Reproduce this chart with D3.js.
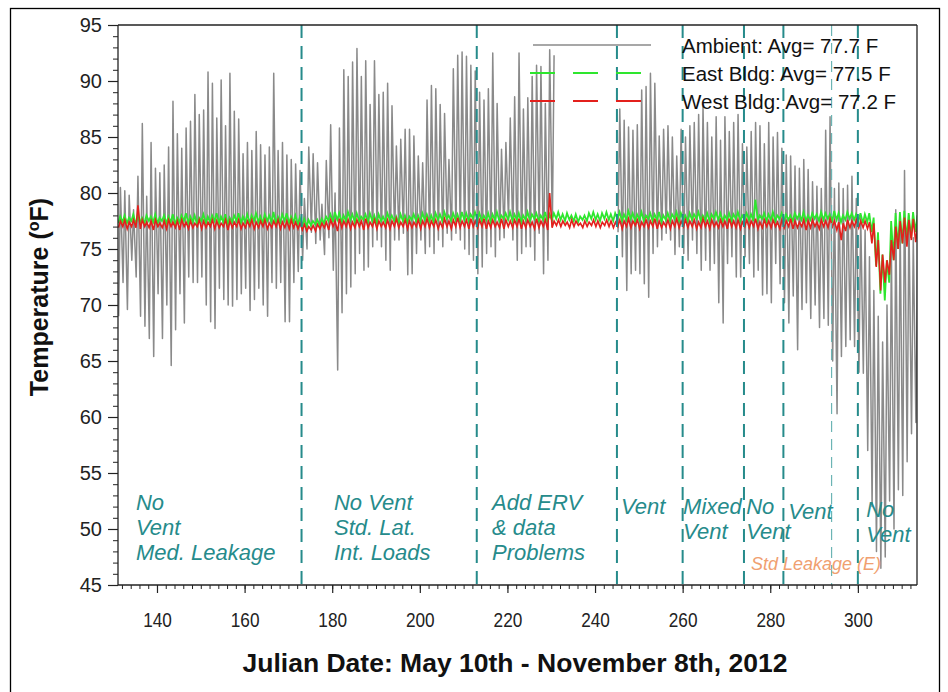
<!DOCTYPE html>
<html><head><meta charset="utf-8">
<script src="https://cdn.jsdelivr.net/npm/d3@7/dist/d3.min.js"></script>
<style>body{margin:0;background:#fff}svg{display:block}</style>
</head><body><svg id="c" width="948" height="692"></svg>
<script>
// ---------------- DATA ----------------
const firstDay = 131;
// Ambient daily max / min (deg F), day 131..313, null = missing data
const ambientMax = [
80.5,80.2,79.8,78.5,81.5,86.2,79.7,84.5,82.2,81.8,
82.5,84.1,88.2,85.3,84.0,85.8,86.4,88.8,87.0,87.4,
90.8,89.8,86.7,90.1,86.0,90.7,87.3,86.6,83.5,84.5,
83.8,85.5,84.3,83.4,84.1,90.7,83.8,84.5,83.4,83.0,
82.6,82.0,79.5,84.1,83.5,82.7,79.0,82.9,86.1,80.0,
85.8,91.0,90.4,91.7,92.9,90.4,91.8,87.9,91.8,88.8,
89.0,89.8,87.8,84.2,84.8,85.7,85.7,85.1,83.3,82.7,
88.3,89.6,89.3,87.9,87.1,83.0,91.1,92.3,92.6,92.2,
91.4,90.9,89.0,88.3,89.3,92.5,88.0,83.9,84.5,86.7,
88.6,92.5,87.5,88.5,90.4,91.4,91.3,88.0,92.8,92.3,
null,null,null,null,null,null,null,null,null,null,
null,null,null,null,87.5,86.5,85.9,85.6,86.1,89.2,
89.5,90.7,89.8,85.1,85.7,86.0,85.0,83.3,85.7,85.0,
86.0,86.3,87.0,87.7,86.3,85.0,86.8,84.7,86.8,85.5,
86.3,87.0,84.4,84.1,85.5,86.3,86.0,84.4,86.3,85.0,
85.4,84.0,83.4,83.3,82.4,82.2,83.0,82.1,81.0,80.6,
80.4,85.6,86.8,80.4,80.9,80.4,80.7,81.5,79.5,78.0,
76.7,74.3,71.3,69.0,66.7,70.0,75.0,78.5,77.5,82.0,
78.0,76.0,74.0];
const ambientMin = [
69.0,72.0,69.6,74.0,72.5,69.0,68.1,67.0,65.4,71.0,
67.0,70.0,64.6,67.8,71.0,68.4,72.5,72.0,72.0,72.5,
70.0,68.5,67.9,71.5,70.5,70.0,69.9,70.5,71.0,71.5,
69.5,70.5,71.5,70.0,69.0,72.0,71.5,72.0,68.5,68.5,
72.0,73.0,74.0,75.0,76.5,75.5,75.8,74.5,76.0,73.1,
64.2,69.3,71.0,71.6,72.8,74.6,73.1,73.4,75.2,75.8,
75.2,74.0,73.1,75.8,75.8,76.4,72.7,72.8,74.6,75.8,
74.6,75.2,74.6,75.8,75.2,76.4,75.8,76.4,75.8,75.0,
74.5,74.0,72.8,73.4,74.6,75.2,74.3,75.8,76.0,77.6,
75.8,74.0,74.6,75.2,75.2,74.0,76.4,72.8,74.0,77.0,
null,null,null,null,null,null,null,null,null,null,
null,null,null,null,76.5,74.3,71.3,72.8,73.1,72.8,
71.9,70.7,74.6,75.2,75.8,76.4,75.8,74.5,75.2,74.6,
74.0,75.8,74.6,73.1,74.0,73.1,73.7,70.2,68.4,73.7,
74.3,72.5,72.5,74.3,73.7,72.5,73.1,70.9,71.0,70.2,
73.7,71.9,70.2,68.4,70.8,66.0,69.6,70.2,68.8,70.0,
68.0,68.8,68.2,65.0,60.3,65.4,66.3,66.9,66.3,64.0,
63.9,57.0,52.0,48.0,46.5,47.5,52.5,50.0,53.5,53.0,
56.0,58.5,59.5];
// East building daily high / low
const eastHi = [
77.9,78.0,77.8,78.1,77.9,77.8,78.0,77.9,78.1,77.8,
78.0,77.9,78.1,77.8,78.0,78.2,77.9,78.0,77.8,78.1,
77.9,78.0,78.2,77.9,78.1,77.8,78.0,78.2,77.9,78.1,
78.0,78.2,77.9,78.1,78.0,78.3,77.9,78.1,78.2,77.9,
78.0,77.8,77.7,77.6,77.5,77.6,77.7,77.9,78.1,78.3,
78.2,78.0,78.3,78.1,78.2,77.9,78.1,78.2,78.0,78.1,
77.9,78.2,78.0,77.9,78.1,78.0,77.9,78.1,78.0,78.2,
78.1,78.0,78.2,78.1,78.3,78.0,78.2,78.1,78.3,78.2,
78.1,78.3,78.2,78.0,78.2,78.1,78.3,78.0,78.2,78.3,
78.1,78.2,78.0,78.3,78.1,78.2,78.0,78.3,78.1,78.2,
78.3,78.1,78.2,78.0,78.1,77.9,78.0,78.2,78.3,78.1,
78.2,78.3,78.1,78.2,78.3,78.1,78.4,78.2,78.1,78.3,
78.0,78.2,78.1,78.3,78.0,78.2,78.1,78.3,78.2,78.0,
78.2,78.1,78.3,78.0,78.2,78.1,78.3,78.2,78.0,78.2,
78.1,78.3,78.0,78.2,78.1,79.4,78.0,78.2,78.1,78.3,
78.0,78.2,78.1,78.0,78.2,78.1,78.3,78.0,78.2,78.1,
78.3,78.2,78.1,78.4,78.2,78.0,78.3,78.2,78.1,78.2,
78.1,78.2,77.8,76.5,74.5,74.0,77.5,78.2,78.3,78.4,
78.2,78.3,78.0];
const eastLo = [
77.3,77.4,77.3,77.5,77.2,77.4,77.3,77.5,77.4,77.3,
77.5,77.3,77.4,77.2,77.4,77.5,77.3,77.4,77.2,77.5,
77.3,77.4,77.5,77.3,77.4,77.2,77.4,77.5,77.3,77.4,
77.3,77.5,77.4,77.3,77.5,77.4,77.2,77.4,77.5,77.3,
77.4,77.2,77.1,77.0,77.1,77.2,77.1,77.3,77.5,77.4,
77.6,77.4,77.5,77.6,77.4,77.5,77.6,77.4,77.5,77.3,
77.5,77.4,77.6,77.5,77.3,77.5,77.4,77.6,77.5,77.4,
77.6,77.5,77.4,77.6,77.5,77.7,77.5,77.6,77.4,77.6,
77.5,77.7,77.6,77.5,77.6,77.4,77.6,77.5,77.7,77.6,
77.5,77.6,77.4,77.6,77.5,77.7,77.5,77.6,77.4,77.6,
77.7,77.6,77.5,77.6,77.5,77.4,77.6,77.5,77.7,77.6,
77.5,77.7,77.6,77.5,77.7,77.5,77.6,77.7,77.5,77.6,
77.5,77.7,77.5,77.6,77.4,77.6,77.5,77.7,77.5,77.6,
77.5,77.6,77.7,77.5,77.6,77.5,77.7,77.6,77.5,77.6,
77.5,77.7,77.5,77.6,77.6,77.5,77.6,77.7,77.5,77.6,
77.5,77.7,77.5,77.6,77.5,77.7,77.6,77.5,77.6,77.7,
77.5,77.6,77.7,77.5,77.6,77.4,77.6,77.7,77.6,77.5,
77.3,77.4,76.5,73.5,71.0,70.4,72.0,74.0,75.0,75.5,
75.8,76.0,76.5];
// West building daily high / low
const westHi = [
77.5,77.6,77.4,77.6,78.9,77.6,77.4,77.5,77.6,77.3,
77.5,77.6,77.4,77.5,77.6,77.4,77.5,77.3,77.6,77.5,
77.4,77.6,77.5,77.3,77.6,77.5,77.4,77.6,77.3,77.5,
77.6,77.4,77.5,77.6,77.3,77.5,77.6,77.4,77.5,77.6,
77.4,77.3,77.2,77.0,77.1,77.2,77.3,77.4,77.6,77.5,
77.7,77.5,77.6,77.4,77.6,77.5,77.7,77.4,77.6,77.5,
77.4,77.6,77.5,77.7,77.4,77.6,77.5,77.4,77.6,77.5,
77.7,77.5,77.6,77.4,77.7,77.5,77.6,77.8,77.5,77.6,
77.7,77.5,77.6,77.7,77.5,77.6,77.4,77.7,77.6,77.5,
77.6,77.7,77.5,77.6,77.4,77.7,77.5,77.6,80.0,77.5,
77.6,77.5,77.4,77.6,77.5,77.3,77.5,77.4,77.6,77.5,
77.4,77.6,77.5,77.4,77.6,77.5,77.7,77.5,77.6,77.4,
77.6,77.5,77.7,77.5,77.4,77.6,77.5,77.7,77.5,77.6,
77.5,77.6,77.4,77.7,77.5,77.6,77.4,77.6,77.5,77.7,
77.5,77.6,77.4,77.6,77.5,77.7,77.4,77.6,77.5,77.6,
77.4,77.6,77.5,77.7,77.5,77.4,77.6,77.5,77.6,77.4,
77.6,77.5,77.7,77.5,77.4,77.3,77.6,77.5,77.6,77.5,
77.5,77.4,77.3,75.8,74.5,74.0,75.8,77.0,77.5,77.8,
77.6,77.7,77.2];
const westLo = [
76.9,77.0,76.8,77.0,76.9,76.8,77.0,76.9,76.7,77.0,
76.9,76.8,77.0,76.9,76.7,77.0,76.8,76.9,77.0,76.8,
76.9,77.0,76.8,76.9,77.0,76.7,76.9,77.0,76.8,76.9,
77.0,76.8,76.9,77.0,76.8,76.9,77.0,76.8,76.9,76.8,
76.9,76.8,76.7,76.6,76.7,76.6,76.8,76.9,76.7,77.0,
76.6,76.9,77.0,76.8,76.9,77.0,76.7,76.9,77.0,76.8,
77.0,76.9,76.8,77.0,76.9,77.0,76.8,76.9,77.0,76.8,
77.0,76.9,77.0,76.8,76.9,77.0,76.8,77.0,76.9,77.0,
76.8,77.0,76.9,77.0,76.8,76.9,77.0,76.9,76.8,77.0,
76.9,77.0,76.8,76.9,77.0,76.8,76.9,77.0,76.7,76.9,
77.1,77.0,77.1,76.9,77.0,77.1,76.9,77.0,77.1,77.0,
76.9,77.1,77.0,76.9,77.0,76.8,77.0,76.9,77.1,76.8,
77.0,76.9,77.0,76.8,76.9,77.0,76.8,77.0,76.9,77.0,
76.9,77.0,76.8,76.9,77.0,76.8,77.0,76.9,77.0,76.8,
77.0,76.9,76.8,77.0,76.9,77.0,76.8,76.9,77.0,76.9,
77.0,76.8,76.9,77.0,76.8,76.9,77.0,76.7,76.9,77.0,
76.8,77.0,76.9,77.0,76.7,75.8,76.6,76.9,77.0,76.9,
76.9,76.8,75.5,73.4,71.3,72.0,72.7,74.0,75.0,75.5,
75.2,75.8,75.6];

const xTicks = [140,160,180,200,220,240,260,280,300];
const yTicks = [45,50,55,60,65,70,75,80,85,90,95];
const phaseDays = [173,213,245,260,274,283,294,300];
const legendNames = ["Ambient: Avg= 77.7 F","East Bldg: Avg= 77.5 F","West Bldg: Avg= 77.2 F"];
const phaseText = [
  ["No","Vent","Med. Leakage"],
  ["No Vent","Std. Lat.","Int. Loads"],
  ["Add ERV","& data","Problems"],
  ["Vent"],
  ["Mixed","Vent"],
  ["No","Vent"],
  ["Vent"],
  ["No","Vent"]
];
const phaseTextDay  = [135.2,180.4,216.5,245.9,260.1,274.5,284.1,301.9];
const phaseTextTemp = [51.7,51.7,51.7,51.35,51.35,51.35,50.9,51.1];
const noteText = "Std Leakage (E)";
const noteDay = 275.6, noteTemp = 46.3;

// ---------------- CHART ----------------
const svg = d3.select("#c");
const L = 118, R = 917, T = 25, B = 585;
const x = d3.scaleLinear().domain([131.1, 313.5]).range([L, R]);
const y = d3.scaleLinear().domain([45, 95]).range([B, T]);
const FONT = "'Liberation Sans', Arial, Helvetica, sans-serif";
const TEAL = "#268b8b";

// outer frame
svg.append("rect").attr("x",10.5).attr("y",8.5).attr("width",929).attr("height",720)
  .attr("fill","none").attr("stroke","#000").attr("stroke-width",1.3);

svg.append("clipPath").attr("id","clip").append("rect")
  .attr("x",L).attr("y",T).attr("width",R-L).attr("height",B-T);

function series(lo, hi, tLo, tHi){
  const pts = [];
  lo.forEach((v,i)=>{
    const d = firstDay + i;
    pts.push({t: d + tLo, v: v});
    pts.push({t: d + tHi, v: hi[i]});
  });
  return pts;
}
const line = d3.line().defined(p => p.v != null).x(p => x(p.t)).y(p => y(p.v));

const plot = svg.append("g").attr("clip-path","url(#clip)");
plot.append("path").datum(series(ambientMin, ambientMax, 0.25, 0.65))
  .attr("d", line).attr("fill","none").attr("stroke","#8a8a8a").attr("stroke-width",1.5)
  .attr("stroke-linejoin","round");
plot.append("path").datum(series(eastLo, eastHi, 0.15, 0.6))
  .attr("d", line).attr("fill","none").attr("stroke","#2ee62e").attr("stroke-width",1.8);
plot.append("path").datum(series(westLo, westHi, 0.2, 0.65))
  .attr("d", line).attr("fill","none").attr("stroke","#e3201c").attr("stroke-width",1.6);

// phase lines
svg.append("g").selectAll("line").data(phaseDays).join("line")
  .attr("x1", d => x(d)).attr("x2", d => x(d)).attr("y1", T).attr("y2", B)
  .attr("stroke", (d,i) => i === 6 ? "#6cb4b4" : TEAL)
  .attr("stroke-width", (d,i) => i === 6 ? 1.2 : 2)
  .attr("stroke-dasharray", (d,i) => i === 6 ? "11,7" : "13,8");

// axes
const yAxis = svg.append("g").attr("transform",`translate(${L},0)`)
  .call(d3.axisLeft(y).tickValues(yTicks).tickSize(10).tickPadding(6).tickFormat(d3.format("d")));
yAxis.call(g => g.select(".domain").remove());
yAxis.selectAll(".tick line").attr("stroke","#222").attr("stroke-width",1.2);
yAxis.selectAll(".tick text").attr("font-family",FONT).attr("font-size",20).attr("fill","#222");
svg.append("g").attr("transform",`translate(${L},0)`)
  .call(d3.axisLeft(y).ticks(50).tickSize(5).tickFormat(""))
  .call(g => g.select(".domain").remove())
  .selectAll("line").attr("stroke","#222");

const xAxis = svg.append("g").attr("transform",`translate(0,${B})`)
  .call(d3.axisBottom(x).tickValues(xTicks).tickSize(8).tickPadding(19).tickFormat(d3.format("d")));
xAxis.call(g => g.select(".domain").remove());
xAxis.selectAll(".tick line").attr("stroke","#222").attr("stroke-width",1.2);
xAxis.selectAll(".tick text").attr("font-family",FONT).attr("font-size",21).attr("fill","#222")
  .attr("transform","scale(0.82,1)");
svg.append("g").attr("transform",`translate(0,${B})`)
  .call(d3.axisBottom(x).tickValues(d3.range(132,314,2)).tickSize(4).tickFormat(""))
  .call(g => g.select(".domain").remove())
  .selectAll("line").attr("stroke","#222");

// frame lines
const fr = svg.append("g").attr("stroke","#222").attr("stroke-width",1.3);
fr.append("line").attr("x1",L).attr("x2",L).attr("y1",T).attr("y2",B);
fr.append("line").attr("x1",L).attr("x2",R).attr("y1",B).attr("y2",B);
fr.append("line").attr("x1",R).attr("x2",R).attr("y1",T).attr("y2",B);
fr.append("line").attr("x1",L).attr("x2",R).attr("y1",T).attr("y2",T);

// axis titles
svg.append("text").attr("x", 515).attr("y", 672).attr("text-anchor","middle")
  .attr("font-family",FONT).attr("font-weight","bold").attr("font-size",26.5).attr("fill","#111")
  .text("Julian Date: May 10th - November 8th, 2012");
const yt = svg.append("text").attr("transform","translate(48,297) rotate(-90)")
  .attr("text-anchor","middle").attr("font-family",FONT).attr("font-weight","bold")
  .attr("font-size",25).attr("fill","#111");
yt.append("tspan").text("Temperature (");
yt.append("tspan").attr("dy",-9).attr("font-size",16).text("o");
yt.append("tspan").attr("dy",9).text("F)");

// legend
const lg = svg.append("g");
const legY = [45, 73, 101];
lg.append("line").attr("x1",533).attr("x2",651).attr("y1",legY[0]).attr("y2",legY[0])
  .attr("stroke","#8a8a8a").attr("stroke-width",1.6);
lg.append("line").attr("x1",530).attr("x2",651).attr("y1",legY[1]).attr("y2",legY[1])
  .attr("stroke","#2ee62e").attr("stroke-width",2).attr("stroke-dasharray","25,18");
lg.append("line").attr("x1",530).attr("x2",651).attr("y1",legY[2]).attr("y2",legY[2])
  .attr("stroke","#e3201c").attr("stroke-width",2).attr("stroke-dasharray","25,18");
lg.selectAll("text").data(legendNames).join("text")
  .attr("x",682).attr("y",(d,i)=>legY[i]+7.5).attr("font-family",FONT).attr("font-size",20.5)
  .attr("fill","#111").text(d=>d);

// phase annotations
phaseText.forEach((lines,i)=>{
  const t = svg.append("text").attr("font-family",FONT).attr("font-style","italic")
    .attr("font-size",22).attr("fill",TEAL);
  lines.forEach((s,j)=>{
    t.append("tspan").attr("x", x(phaseTextDay[i])).attr("y", y(phaseTextTemp[i]) + j*25).text(s);
  });
});
svg.append("text").attr("x",x(noteDay)).attr("y",y(noteTemp)).attr("font-family",FONT)
  .attr("font-style","italic").attr("font-size",18).attr("fill","#f0a070").text(noteText);
</script></body></html>
